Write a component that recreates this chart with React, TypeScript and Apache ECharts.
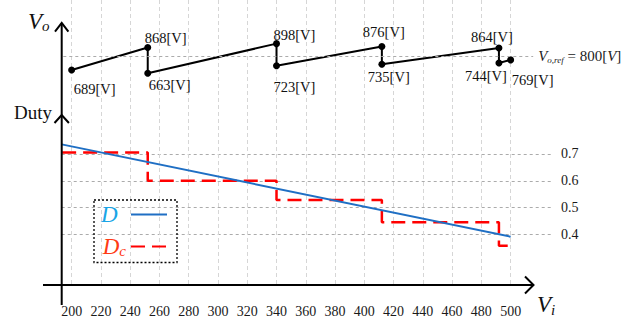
import React, { useEffect, useRef } from 'react';
import * as echarts from 'echarts';

// ---- data ----
const X_TICKS = [200, 220, 240, 260, 280, 300, 320, 340, 360, 380, 400, 420, 440, 460, 480, 500];
const DUTY_TICKS = [0.4, 0.5, 0.6, 0.7];
const VO_VI = [200, 252, 252, 340, 340, 412, 412, 492, 492, 500];
const VO_VALUES = [689, 868, 663, 898, 723, 876, 735, 864, 744, 769];
const VO_REF = 800;
const VO_REF_SPAN = [194.3, 515.4];
const D_VI = [193.2, 500];
const D_VALUES = [0.736, 0.391];
const DC_VI = [193.5, 252, 340, 412, 492, 500];
const DC_VALUES = [0.706, 0.6, 0.528, 0.445, 0.357, 0.357];

// ---- label styling (offsets in px from each point) ----
const VO_LABEL_OFFSETS: number[][] = [
  [2, 19], [-3, -9], [1, 12], [-3, -9], [-3, 21],
  [-19, -14], [-14, 13], [-28, -11], [-34, 13], [1, 20],
];

const SERIF = "'Liberation Serif', 'Times New Roman', serif";

export default function App() {
  const ref = useRef<HTMLDivElement>(null);
  useEffect(() => {
    const chart = echarts.init(ref.current!, null, { renderer: 'svg' });
    const option: any = {
      animation: false,
      backgroundColor: '#ffffff',
      textStyle: { fontFamily: SERIF },
      grid: { left: 61.7, top: 0, width: 490.2, height: 285, containLabel: false, outerBoundsMode: 'none' },
      xAxis: {
        type: 'value',
        min: 193.2,
        max: 528.2,
        axisLine: { show: false },
        axisTick: { show: false, customValues: X_TICKS },
        axisLabel: { customValues: X_TICKS, margin: 19, fontSize: 14, color: '#1a1a1a', fontFamily: SERIF },
        splitLine: { show: true, lineStyle: { color: '#d6d6d6', type: [4, 3], width: 1 } },
      },
      yAxis: [
        {
          type: 'value',
          position: 'right',
          min: 0.2106,
          max: 1.2753,
          axisLine: { show: false },
          axisTick: { show: false, customValues: DUTY_TICKS },
          axisLabel: {
            customValues: DUTY_TICKS,
            margin: 9,
            fontSize: 14,
            color: '#1a1a1a',
            fontFamily: SERIF,
            formatter: (v: number) => v.toFixed(1),
          },
          splitLine: { show: true, lineStyle: { color: '#ababab', type: [3, 3], width: 1.2 } },
        },
        { type: 'value', show: false, min: -1017.5, max: 1244.4, splitLine: { show: false } },
      ],
      legend: {
        data: ['D', 'Dc'],
        orient: 'vertical',
        left: 94,
        top: 200,
        align: 'right',
        itemWidth: 36,
        itemHeight: 14,
        itemGap: 9,
        padding: [3, 9, 4, 7],
        borderColor: '#000',
        borderWidth: 1.3,
        borderType: [2, 2],
        itemStyle: { opacity: 0 },
        formatter: (name: string) => (name === 'D' ? '{d|D}' : '{c|D}{cs|c}'),
        textStyle: {
          rich: {
            d: { fontFamily: SERIF, fontStyle: 'italic', fontSize: 23, color: '#1aa5e6', width: 25, align: 'left' },
            c: { fontFamily: SERIF, fontStyle: 'italic', fontSize: 23, color: '#ff3a14' },
            cs: { fontFamily: SERIF, fontStyle: 'italic', fontSize: 15, color: '#ff3a14', padding: [9, 0, 0, 0] },
          },
        },
      },
      series: [
        {
          name: 'D',
          type: 'line',
          yAxisIndex: 0,
          symbol: 'none',
          data: D_VI.map((x, i) => [x, D_VALUES[i]]),
          lineStyle: { color: '#1f6fc4', width: 2 },
          itemStyle: { color: '#1f6fc4' },
          z: 3,
        },
        {
          name: 'Dc',
          type: 'line',
          yAxisIndex: 0,
          symbol: 'none',
          step: 'end',
          data: DC_VI.map((x, i) => [x, DC_VALUES[i]]),
          lineStyle: { color: '#ff0000', width: 2.5, type: [14, 7] },
          itemStyle: { color: '#ff0000' },
          z: 2,
        },
        {
          name: 'Vo',
          type: 'line',
          yAxisIndex: 1,
          symbol: 'circle',
          symbolSize: 7,
          data: VO_VI.map((x, i) => ({
            value: [x, VO_VALUES[i]],
            label: { offset: VO_LABEL_OFFSETS[i] },
          })),
          lineStyle: { color: '#000', width: 2 },
          itemStyle: { color: '#000' },
          label: {
            show: true,
            position: 'inside',
            align: 'left',
            verticalAlign: 'middle',
            color: '#111',
            fontSize: 14.5,
            fontFamily: SERIF,
            formatter: (p: any) => `${p.value[1]}[V]`,
          },
          markLine: {
            silent: true,
            symbol: 'none',
            lineStyle: { color: '#ababab', type: [3, 3], width: 1.2 },
            label: {
              show: true,
              position: 'end',
              distance: 5,
              formatter: '{v|V}{s|o,ref}{n| = ' + VO_REF + '[}{v|V}{n|]}',
              rich: {
                v: { fontFamily: SERIF, fontStyle: 'italic', fontSize: 15, color: '#222' },
                s: { fontFamily: SERIF, fontStyle: 'italic', fontSize: 9, color: '#222', padding: [8, 0, 0, 0] },
                n: { fontFamily: SERIF, fontSize: 15, color: '#222' },
              },
            },
            data: [[{ coord: [VO_REF_SPAN[0], VO_REF] }, { coord: [VO_REF_SPAN[1], VO_REF] }]],
          },
          z: 4,
        },
      ],
      graphic: [
        { type: 'line', shape: { x1: 61.7, y1: 23, x2: 61.7, y2: 305 }, style: { stroke: '#000', lineWidth: 2 }, z: 10 },
        { type: 'polyline', shape: { points: [[55, 31.7], [61.7, 23], [68.4, 31.7]] }, style: { stroke: '#000', lineWidth: 2, fill: null }, z: 10 },
        { type: 'polyline', shape: { points: [[54.5, 123], [61.7, 115], [68.9, 123]] }, style: { stroke: '#000', lineWidth: 2, fill: null }, z: 10 },
        { type: 'line', shape: { x1: 43, y1: 285, x2: 533, y2: 285 }, style: { stroke: '#000', lineWidth: 2 }, z: 10 },
        { type: 'polyline', shape: { points: [[525, 276.5], [533.5, 285], [525, 293.5]] }, style: { stroke: '#000', lineWidth: 2, fill: null }, z: 10 },
        {
          type: 'text', x: 28, y: 21, z: 10,
          style: {
            text: '{v|V}{s|o}', verticalAlign: 'middle',
            rich: {
              v: { fontFamily: SERIF, fontStyle: 'italic', fontSize: 23, fill: '#111' },
              s: { fontFamily: SERIF, fontStyle: 'italic', fontSize: 15, fill: '#111', padding: [9, 0, 0, 0] },
            },
          },
        },
        {
          type: 'text', x: 14, y: 112, z: 10,
          style: { text: 'Duty', fontFamily: SERIF, fontSize: 19, fill: '#111', verticalAlign: 'middle' },
        },
        {
          type: 'text', x: 537, y: 304, z: 10,
          style: {
            text: '{v|V}{s|i}', verticalAlign: 'middle',
            rich: {
              v: { fontFamily: SERIF, fontStyle: 'italic', fontSize: 23, fill: '#111' },
              s: { fontFamily: SERIF, fontStyle: 'italic', fontSize: 15, fill: '#111', padding: [12, 0, 0, 0] },
            },
          },
        },
      ],
    };
    chart.setOption(option);
    return () => chart.dispose();
  }, []);
  return (
    <div
      ref={ref}
      style={{ position: 'fixed', left: 0, top: 0, width: 633, height: 323, background: '#fff' }}
    />
  );
}
